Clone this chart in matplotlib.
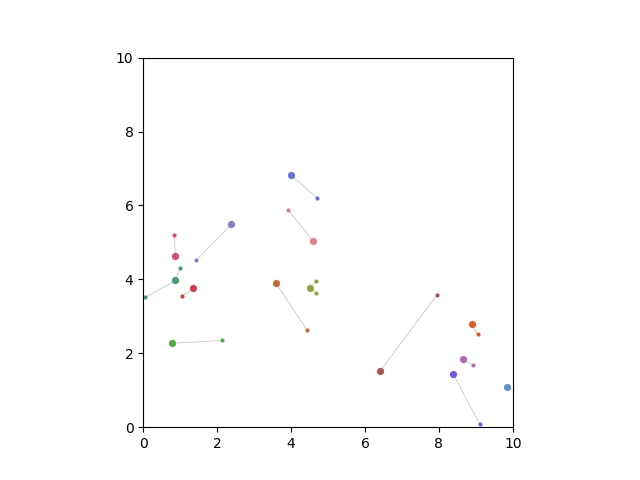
import matplotlib
matplotlib.use("Agg")
import matplotlib.pyplot as plt

# cluster centres (big dots)
hub_x = [4.00, 4.60, 3.59, 4.51, 2.38, 0.87, 0.87, 1.36, 0.77, 6.42, 8.90, 8.66, 8.39, 9.85]
hub_y = [6.82, 5.04, 3.90, 3.77, 5.49, 4.62, 3.97, 3.76, 2.27, 1.53, 2.78, 1.84, 1.44, 1.08]
colors = ["#5a6ad8", "#e07884", "#c0622e", "#8f9e2e", "#8a72c6", "#d2406e", "#3c9a62",
          "#d8353f", "#4aa83e", "#a84a44", "#e0521e", "#b062b0", "#7050e0", "#5a8ccc"]

# satellites (small dots), one list per cluster
sat_x = [[4.70], [3.92], [4.43], [4.68, 4.68], [1.44], [0.84], [1.00, 0.06], [1.06],
         [2.14], [7.94], [9.05], [8.93], [9.10], [10.30]]
sat_y = [[6.20], [5.88], [2.63], [3.95, 3.63], [4.52], [5.19], [4.30, 3.51], [3.54],
         [2.35], [3.57], [2.51], [1.67], [0.09], [0.85]]

fig = plt.figure(figsize=(6.4, 4.8), dpi=100)
ax = fig.add_subplot(111)

for i in range(len(hub_x)):
    for sx, sy in zip(sat_x[i], sat_y[i]):
        ax.plot([hub_x[i], sx], [hub_y[i], sy], color="#c8c8c8", lw=0.6, zorder=1)
    ax.plot(sat_x[i], sat_y[i], "o", color=colors[i], ms=3, mew=0, alpha=0.95, zorder=2)
    ax.plot(hub_x[i], hub_y[i], "o", color=colors[i], ms=5.2, mew=0, alpha=0.95, zorder=3)

ax.set_xlim(0, 10)
ax.set_ylim(0, 10)
ax.set_aspect("equal")

fig.savefig("out.png")
